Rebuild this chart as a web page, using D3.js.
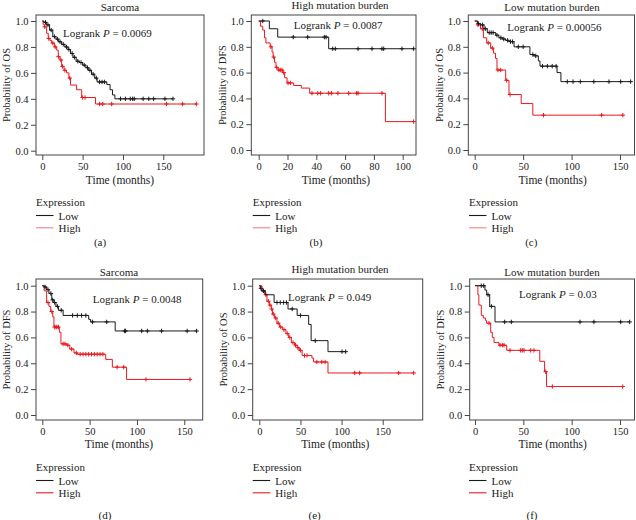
<!DOCTYPE html>
<html>
<head>
<meta charset="utf-8">
<script src="https://cdn.jsdelivr.net/npm/d3@7"></script>
<style>
  html, body { margin: 0; padding: 0; background: #fff; }
  svg { display: block; }
  text { font-family: "Liberation Serif", "DejaVu Serif", serif; fill: #222; }
</style>
</head>
<body>
<svg id="chart" width="636" height="520"></svg>
<script>
// ---------------- DATA ----------------
const yTickValues = [0, 0.2, 0.4, 0.6, 0.8, 1.0];
const xTicks150 = [0, 50, 100, 150];
const xTicks100 = [0, 20, 40, 60, 80, 100];
const legendLabels = ["Low", "High"];
const legendTitle = "Expression";
const panelTitles = ["Sarcoma", "High mutation burden", "Low mutation burden", "Sarcoma", "High mutation burden", "Low mutation burden"];
const panelPValues = ["0.0069", "0.0087", "0.00056", "0.0048", "0.049", "0.03"];
const panelYLabels = ["Probability of OS", "Probability of DFS", "Probability of OS", "Probability of DFS", "Probability of OS", "Probability of DFS"];
const panelLetters = ["(a)", "(b)", "(c)", "(d)", "(e)", "(f)"];

// (a) Sarcoma OS
const aLowTime  = [2, 5, 9, 13, 17, 20, 24, 28, 32, 35, 38, 42, 46, 50, 54, 57, 61, 65, 68, 80, 84, 87, 90];
const aLowSurv  = [0.99, 0.97, 0.93, 0.88, 0.86, 0.84, 0.82, 0.80, 0.78, 0.75, 0.72, 0.69, 0.68, 0.66, 0.64, 0.62, 0.59, 0.56, 0.53, 0.51, 0.47, 0.43, 0.40];
const aLowCens  = [4, 7, 11, 15, 19, 22, 26, 30, 33, 37, 40, 44, 48, 52, 56, 59, 63, 67, 71, 74, 77, 97, 103, 109, 112, 114, 125, 132, 138, 152, 162];
const aHighTime = [1, 2.5, 5.4, 7.4, 9.5, 11.6, 15, 17.8, 19.8, 21.9, 24, 26.9, 30, 33, 35, 42.5, 48.8, 66];
const aHighSurv = [0.975, 0.955, 0.905, 0.865, 0.85, 0.83, 0.80, 0.775, 0.725, 0.70, 0.65, 0.62, 0.60, 0.56, 0.506, 0.47, 0.41, 0.36];
const aHighCens = [3, 8, 13, 16, 20, 23, 25, 28, 34, 50, 53, 71, 75, 86, 154, 174, 191];

// (b) High mutation burden DFS
const bLowTime  = [7.4, 13.2, 48.6];
const bLowSurv  = [0.94, 0.875, 0.785];
const bLowCens  = [2.8, 24, 34, 45.6, 46.8, 51.4, 53.2, 69, 78.7, 85.6, 86.8, 99.5, 107.6];
const bHighTime = [1.2, 2.8, 4, 5, 8, 9.3, 10, 11, 12, 13.4, 16.7, 18, 19.7, 24.3, 29.6, 35.4, 88];
const bHighSurv = [0.96, 0.93, 0.87, 0.83, 0.80, 0.76, 0.72, 0.68, 0.64, 0.62, 0.60, 0.56, 0.52, 0.50, 0.48, 0.44, 0.22];
const bHighCens = [8.5, 10.4, 12.5, 14, 15, 16.2, 17.4, 20.4, 22, 37, 41, 43, 48.6, 50.5, 55, 62.5, 68, 69, 85.6, 107.6];

// (c) Low mutation burden OS
const cLowTime  = [2.8, 6, 9.6, 13, 21.7, 25, 28.5, 32, 35.4, 40.6, 57, 61, 65.7, 67.4, 85, 89];
const cLowSurv  = [0.98, 0.97, 0.94, 0.91, 0.89, 0.87, 0.86, 0.85, 0.84, 0.80, 0.74, 0.73, 0.69, 0.65, 0.60, 0.53];
const cLowCens  = [4, 8, 11, 15, 17, 19, 23, 27, 30, 34, 37, 39, 45, 50, 60, 63, 70, 75, 80, 84, 95.6, 101.5, 109, 123, 138.6, 150.7, 161];
const cHighTime = [2.8, 6, 9, 12.4, 16.5, 19.5, 21.5, 23, 32, 35.4, 48, 60];
const cHighSurv = [0.97, 0.94, 0.87, 0.83, 0.79, 0.75, 0.71, 0.62, 0.54, 0.43, 0.36, 0.27];
const cHighCens = [3.4, 7.9, 14, 18.2, 24, 26.8, 33, 36.5, 71, 131, 153];

// (d) Sarcoma DFS
const dLowTime  = [2, 4.6, 7, 10, 12.3, 14.4, 17, 22, 49, 51, 77];
const dLowSurv  = [0.99, 0.97, 0.94, 0.89, 0.87, 0.84, 0.81, 0.77, 0.74, 0.72, 0.65];
const dLowCens  = [3, 6, 9, 11, 13, 16, 20, 32, 37, 41.5, 46, 53, 68, 87, 88, 105, 111, 126, 153, 163];
const dHighTime = [2, 4.6, 7, 8.8, 11, 12.3, 18, 19.7, 25.7, 29, 33.5, 37, 67, 74, 89];
const dHighSurv = [0.96, 0.87, 0.84, 0.80, 0.76, 0.68, 0.64, 0.55, 0.54, 0.51, 0.48, 0.47, 0.43, 0.37, 0.275];
const dHighCens = [6, 10, 13, 14.5, 15.5, 17, 22, 24, 27, 31, 36, 40, 43, 46, 49, 52, 55, 58, 61, 64, 79, 86, 109.5, 156];

// (e) High mutation burden OS
const eLowTime  = [1.2, 3.2, 7.3, 18, 34.9, 46, 60, 63, 83.5];
const eLowSurv  = [0.98, 0.96, 0.93, 0.87, 0.82, 0.77, 0.70, 0.575, 0.49];
const eLowCens  = [2, 5, 21.5, 25.5, 29.6, 33, 40, 50, 68, 100.5, 105];
const eHighTime = [3.2, 6.5, 9.3, 12.2, 14.6, 16, 18.6, 21.5, 24.7, 28.4, 32.4, 35.7, 39, 43, 46, 48.6, 52, 64, 66, 83.5];
const eHighSurv = [0.96, 0.93, 0.88, 0.85, 0.82, 0.78, 0.75, 0.71, 0.68, 0.66, 0.63, 0.60, 0.56, 0.54, 0.52, 0.50, 0.46, 0.44, 0.41, 0.325];
const eHighCens = [5, 8, 11, 13, 15, 17, 20, 23, 26, 30, 34, 37, 41, 44, 47, 50, 55, 58, 70, 76, 80, 116, 122, 169.4, 187.7];

// (f) Low mutation burden DFS
const fLowTime  = [10.3, 12.1, 15.2, 20.7];
const fLowSurv  = [0.966, 0.93, 0.84, 0.72];
const fLowCens  = [6.5, 9, 13.5, 17, 30.7, 37.6, 108.6, 123, 150.7, 160];
const fHighTime = [3, 4, 6.5, 8.6, 11, 12, 16.2, 17.9, 19.7, 24.8, 32.8, 67, 72, 74];
const fHighSurv = [0.93, 0.85, 0.77, 0.75, 0.73, 0.71, 0.64, 0.60, 0.56, 0.54, 0.50, 0.415, 0.335, 0.22];
const fHighCens = [14.5, 25.9, 28.3, 30, 36.2, 47.2, 49, 50.7, 57.6, 61, 73.1, 80, 152.8];

// ---------------- LAYOUT ----------------
const COL_LOW = "#1a1a1a";
const COL_HIGH = "#e8191f";

const panels = [
  { box: [36, 204, 15, 155], xd: [0, 150], xr: [42.3, 163.3], yr: [150.7, 21], xt: xTicks150,
    titleX: 120, titleY: 11, pX: 63, pY: 36.5, ylabX: 10, xlabX: 120, xlabY: 184,
    legX: 36, legY: 206, letterX: 100, letterY: 246, legHighCol: "#f08080",
    low: [aLowTime, aLowSurv, aLowCens], high: [aHighTime, aHighSurv, aHighCens] },
  { box: [251.3, 416, 15, 155], xd: [0, 100], xr: [258.7, 402.7], yr: [150, 21], xt: xTicks100,
    titleX: 340, titleY: 9, pX: 293.7, pY: 29, ylabX: 226, xlabX: 336, xlabY: 184,
    legX: 252.7, legY: 206, letterX: 316, letterY: 246, legHighCol: "#f08080",
    low: [bLowTime, bLowSurv, bLowCens], high: [bHighTime, bHighSurv, bHighCens] },
  { box: [468.3, 634.5, 15, 155], xd: [0, 150], xr: [474.7, 620], yr: [150, 21], xt: xTicks150,
    titleX: 552, titleY: 11, pX: 507.3, pY: 30.5, ylabX: 442.5, xlabX: 552.7, xlabY: 184,
    legX: 469, legY: 206, letterX: 531.3, letterY: 246, legHighCol: "#f08080",
    low: [cLowTime, cLowSurv, cLowCens], high: [cHighTime, cHighSurv, cHighCens] },
  { box: [36, 202.7, 279, 420], xd: [0, 150], xr: [42.3, 184.3], yr: [415, 285.7], xt: xTicks150,
    titleX: 119, titleY: 275.5, pX: 92.7, pY: 303, ylabX: 10, xlabX: 119, xlabY: 447.5,
    legX: 36, legY: 471, letterX: 105, letterY: 519, legHighCol: COL_HIGH,
    low: [dLowTime, dLowSurv, dLowCens], high: [dHighTime, dHighSurv, dHighCens] },
  { box: [252.7, 422.7, 279, 420], xd: [0, 150], xr: [259.3, 382.7], yr: [415, 285.7], xt: xTicks150,
    titleX: 340, titleY: 273, pX: 288, pY: 301, ylabX: 227, xlabX: 335.3, xlabY: 447.5,
    legX: 252.7, legY: 471, letterX: 314.7, letterY: 519, legHighCol: COL_HIGH,
    low: [eLowTime, eLowSurv, eLowCens], high: [eHighTime, eHighSurv, eHighCens] },
  { box: [469.7, 634.5, 279, 420], xd: [0, 150], xr: [475, 620], yr: [415, 285.7], xt: xTicks150,
    titleX: 552, titleY: 275.5, pX: 519, pY: 298, ylabX: 443.5, xlabX: 552.7, xlabY: 447.5,
    legX: 469, legY: 471, letterX: 532, letterY: 519, legHighCol: COL_HIGH,
    low: [fLowTime, fLowSurv, fLowCens], high: [fHighTime, fHighSurv, fHighCens] }
];

const svg = d3.select("#chart");

function survAt(times, surv, t) {
  let s = 1;
  for (let i = 0; i < times.length; i++) { if (times[i] <= t) s = surv[i]; }
  return s;
}

function stepPoints(times, surv, cens) {
  const pts = [[0, 1]];
  let prev = 1;
  times.forEach((t, i) => { pts.push([t, prev]); pts.push([t, surv[i]]); prev = surv[i]; });
  const tEnd = Math.max(d3.max(cens), d3.max(times));
  pts.push([tEnd, prev]);
  return pts;
}

panels.forEach((p, idx) => {
  const g = svg.append("g");
  const x = d3.scaleLinear().domain(p.xd).range(p.xr);
  const y = d3.scaleLinear().domain([0, 1]).range(p.yr);
  const [bx0, bx1, by0, by1] = p.box;

  // box
  g.append("rect").attr("x", bx0).attr("y", by0).attr("width", bx1 - bx0).attr("height", by1 - by0)
    .attr("fill", "none").attr("stroke", "#444").attr("stroke-width", 1);

  // y axis
  const yAxis = g.append("g").attr("transform", `translate(${bx0},0)`)
    .call(d3.axisLeft(y).tickValues(yTickValues).tickFormat(d3.format(".1f")).tickSize(5).tickPadding(2.5));
  yAxis.select(".domain").remove();
  yAxis.selectAll("line").attr("stroke", "#444");
  yAxis.selectAll("text").style("font-family", '"Liberation Serif", serif').style("font-size", "10.5px").attr("fill", "#222");

  // x axis
  const xAxis = g.append("g").attr("transform", `translate(0,${by1})`)
    .call(d3.axisBottom(x).tickValues(p.xt).tickFormat(d3.format("d")).tickSize(5).tickPadding(2.5));
  xAxis.select(".domain").remove();
  xAxis.selectAll("line").attr("stroke", "#444");
  xAxis.selectAll("text").style("font-family", '"Liberation Serif", serif').style("font-size", "10.5px").attr("fill", "#222");

  // curves (high first then low on top)
  const line = d3.line().x(d => x(d[0])).y(d => y(d[1]));
  [[p.high, COL_HIGH], [p.low, COL_LOW]].forEach(([ser, col]) => {
    const [times, surv, cens] = ser;
    g.append("path").datum(stepPoints(times, surv, cens)).attr("d", line)
      .attr("fill", "none").attr("stroke", col).attr("stroke-width", 1);
    const cg = g.append("g");
    cens.forEach(t => {
      const cx = x(t), cy = y(survAt(times, surv, t));
      cg.append("line").attr("x1", cx - 2.2).attr("x2", cx + 2.2).attr("y1", cy).attr("y2", cy).attr("stroke", col).attr("stroke-width", 1);
      cg.append("line").attr("x1", cx).attr("x2", cx).attr("y1", cy - 2.2).attr("y2", cy + 2.2).attr("stroke", col).attr("stroke-width", 1);
    });
  });

  // title
  g.append("text").attr("x", p.titleX).attr("y", p.titleY).attr("text-anchor", "middle")
    .style("font-size", "11px").text(panelTitles[idx]);

  // logrank
  const pt = g.append("text").attr("x", p.pX).attr("y", p.pY).style("font-size", "11px");
  pt.append("tspan").text("Logrank ");
  pt.append("tspan").style("font-style", "italic").text("P");
  pt.append("tspan").text(" = " + panelPValues[idx]);

  // y label
  const cy = (by0 + by1) / 2;
  g.append("text").attr("transform", `translate(${p.ylabX},${cy}) rotate(-90)`).attr("text-anchor", "middle")
    .style("font-size", "10.5px").text(panelYLabels[idx]);

  // x label
  g.append("text").attr("x", p.xlabX).attr("y", p.xlabY).attr("text-anchor", "middle")
    .style("font-size", "11.5px").text("Time (months)");

  // legend
  g.append("text").attr("x", p.legX).attr("y", p.legY).style("font-size", "11px").text(legendTitle);
  const legCols = [COL_LOW, p.legHighCol];
  legendLabels.forEach((lab, i) => {
    const ly = p.legY + 9.5 + i * 12.3;
    g.append("line").attr("x1", p.legX).attr("x2", p.legX + 17.5).attr("y1", ly).attr("y2", ly)
      .attr("stroke", legCols[i]).attr("stroke-width", 1.1);
    g.append("text").attr("x", p.legX + 22.5).attr("y", ly + 4).style("font-size", "11px").text(lab);
  });

  // panel letter
  g.append("text").attr("x", p.letterX).attr("y", p.letterY).attr("text-anchor", "middle")
    .style("font-size", "11px").text(panelLetters[idx]);
});
</script>
</body>
</html>
